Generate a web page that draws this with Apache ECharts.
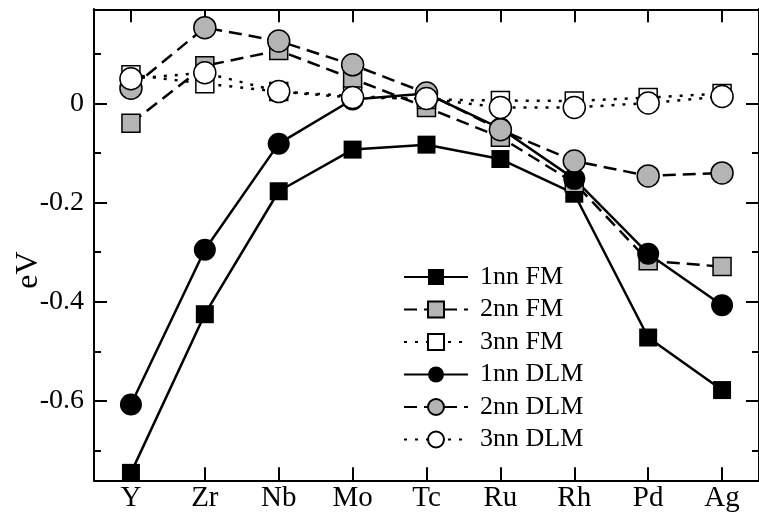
<!DOCTYPE html>
<html>
<head>
<meta charset="utf-8">
<script src="https://cdn.jsdelivr.net/npm/echarts@6/dist/echarts.min.js"></script>
<style>
html,body{margin:0;padding:0;background:#fff;}
#chart{width:759px;height:515px;}
</style>
</head>
<body>
<div id="chart"></div>
<script>
const categories = ['Y', 'Zr', 'Nb', 'Mo', 'Tc', 'Ru', 'Rh', 'Pd', 'Ag'];
const fm1  = [-0.745, -0.425, -0.177, -0.093, -0.083, -0.112, -0.182, -0.472, -0.578];
const fm2  = [-0.040, 0.076, 0.107, 0.050, -0.008, -0.068, -0.160, -0.317, -0.329];
const fm3  = [0.058, 0.040, 0.024, 0.015, 0.008, 0.006, 0.005, 0.012, 0.020];
const dlm1 = [-0.607, -0.295, -0.081, 0.008, 0.020, -0.050, -0.152, -0.303, -0.407];
const dlm2 = [0.031, 0.153, 0.126, 0.078, 0.021, -0.053, -0.116, -0.146, -0.140];
const dlm3 = [0.050, 0.062, 0.024, 0.012, 0.010, -0.008, -0.008, 0.001, 0.014];
const seriesNames = ['1nn FM', '2nn FM', '3nn FM', '1nn DLM', '2nn DLM', '3nn DLM'];
const yLabelValues = [-0.6, -0.4, -0.2, 0];
const yMinorValues = [-0.7, -0.5, -0.3, -0.1, 0.1];
const yMin = -0.76, yMax = 0.19;
const yTitle = 'eV';

const FONT = '"Liberation Serif", "Times New Roman", serif';
const GREY = '#b4b4b4';

const chart = echarts.init(document.getElementById('chart'), null, {renderer: 'canvas'});

function yAx(pos, labels, values, len) {
  return {
    type: 'value', position: pos, min: yMin, max: yMax,
    splitLine: {show: false},
    axisLine: {show: true, onZero: false, lineStyle: {color: '#000', width: 2}},
    axisTick: {show: true, inside: true, length: len, customValues: values, lineStyle: {color: '#000', width: 2}},
    axisLabel: {show: labels, customValues: values, margin: 10, color: '#000', fontSize: 28, fontFamily: FONT,
      formatter: v => (Math.abs(v) < 1e-9 ? '0' : String(v))}
  };
}
function xAx(pos, labels) {
  return {
    type: 'category', data: categories, position: pos, boundaryGap: true,
    axisLine: {show: true, onZero: false, lineStyle: {color: '#000', width: 2}},
    axisTick: {show: true, inside: true, alignWithLabel: true, length: 13, lineStyle: {color: '#000', width: 2}},
    axisLabel: {show: labels, margin: 4, color: '#000', fontSize: 29, fontFamily: FONT},
    splitLine: {show: false}
  };
}

function mk(name, data, symbol, size, fill, dash) {
  return {
    name: name, type: 'line', data: data, xAxisIndex: 0, yAxisIndex: 0,
    symbol: symbol, symbolSize: size, showAllSymbol: true,
    lineStyle: {color: '#000', width: 2.5, type: dash},
    itemStyle: {color: fill, borderColor: '#000', borderWidth: fill === '#000' ? 0 : 1.5, opacity: 1},
    emphasis: {disabled: true},
    clip: false
  };
}

const option = {
  animation: false,
  backgroundColor: '#fff',
  grid: {left: 94, top: 9.3, width: 672.7, height: 471, containLabel: false},
  xAxis: [xAx('bottom', true), xAx('top', false)],
  yAxis: [
    yAx('left', true, yLabelValues, 13),
    yAx('left', false, yMinorValues, 7),
    yAx('right', false, yLabelValues, 13),
    yAx('right', false, yMinorValues, 7)
  ],
  legend: {
    orient: 'vertical', left: 398, top: 259,
    itemWidth: 64, itemHeight: 20, itemGap: 6.5,
    data: seriesNames,
    textStyle: {color: '#000', fontSize: 26, fontFamily: FONT, lineHeight: 20, padding: [0, 0, 0, 7]},
    selectedMode: false
  },
  graphic: [{
    type: 'text', x: 29, y: 270, rotation: Math.PI / 2,
    style: {text: yTitle, fill: '#000', font: '32px ' + FONT, align: 'center', verticalAlign: 'middle'}
  }],
  series: [
    mk(seriesNames[0], fm1, 'rect', 18, '#000', 'solid'),
    mk(seriesNames[1], fm2, 'rect', 18, GREY, [13, 7]),
    mk(seriesNames[2], fm3, 'rect', 18, '#fff', [3, 8]),
    mk(seriesNames[3], dlm1, 'circle', 22, '#000', 'solid'),
    mk(seriesNames[4], dlm2, 'circle', 22, GREY, [13, 7]),
    mk(seriesNames[5], dlm3, 'circle', 22, '#fff', [3, 8])
  ]
};
chart.setOption(option);
</script>
</body>
</html>
